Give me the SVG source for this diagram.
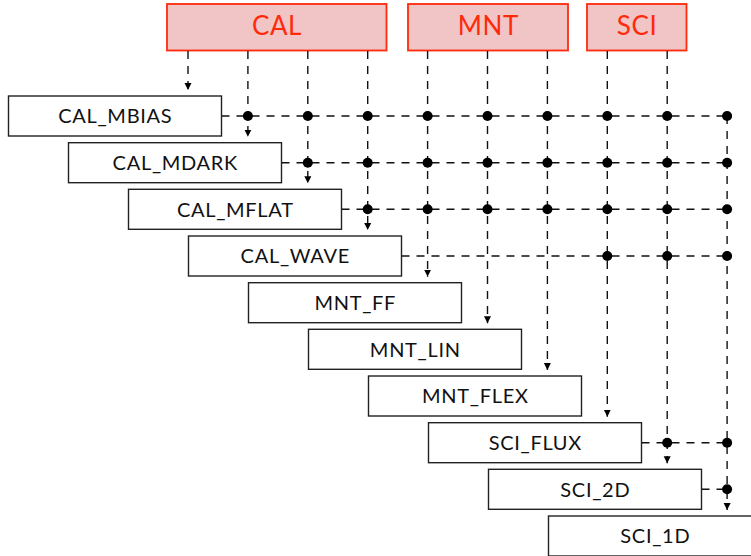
<svg xmlns="http://www.w3.org/2000/svg" width="751" height="556" viewBox="0 0 751 556">
<style>
.hdr rect{fill:#f1c5c5;stroke:#ff2a0a;stroke-width:1.8}
.hdr text{fill:#ff2a0a;font-family:Lato,"Liberation Sans",sans-serif;font-size:26px;letter-spacing:0.6px;text-anchor:middle}
.node rect{fill:#fff;stroke:#222;stroke-width:1.4}
.node text{fill:#111;font-family:Lato,"Liberation Sans",sans-serif;font-size:20px;letter-spacing:0.7px;text-anchor:middle}
.ln{fill:none;stroke:#111;stroke-width:1.4;stroke-dasharray:8,7}
.dot{fill:#000}
</style>
<defs>
<marker id="ah" markerUnits="userSpaceOnUse" markerWidth="8" markerHeight="8" viewBox="0 0 8 8" refX="7" refY="4" orient="auto">
<path d="M0,0.5 L7,4 L0,7.5 Z" fill="#000"/>
</marker>
</defs>
<g id="hdr-CAL" class="hdr"><rect x="167" y="4" width="219.5" height="46.5"/><text x="277" y="35">CAL</text></g>
<g id="hdr-MNT" class="hdr"><rect x="408" y="4" width="160" height="46.5"/><text x="488.3" y="35">MNT</text></g>
<g id="hdr-SCI" class="hdr"><rect x="587" y="4" width="99.5" height="46.5"/><text x="637" y="35">SCI</text></g>

<g id="connectors">
<path class="ln" d="M188,51 V90" marker-end="url(#ah)"/>
<path class="ln" d="M247.9,51 V136.7" marker-end="url(#ah)"/>
<path class="ln" d="M307.8,51 V183.3" marker-end="url(#ah)"/>
<path class="ln" d="M367.7,51 V230" marker-end="url(#ah)"/>
<path class="ln" d="M427.6,51 V276.7" marker-end="url(#ah)"/>
<path class="ln" d="M487.5,51 V323.3" marker-end="url(#ah)"/>
<path class="ln" d="M547.4,51 V370" marker-end="url(#ah)"/>
<path class="ln" d="M607.3,51 V416.7" marker-end="url(#ah)"/>
<path class="ln" d="M667.2,51 V463.3" marker-end="url(#ah)"/>
<path class="ln" d="M727.1,116 V510" marker-end="url(#ah)"/>

<path class="ln" d="M221.5,116 H727.1"/>
<path class="ln" d="M281.5,162.7 H727.1"/>
<path class="ln" d="M341.5,209.3 H727.1"/>
<path class="ln" d="M401.5,256 H727.1"/>
<path class="ln" d="M641.5,442.7 H727.1"/>
<path class="ln" d="M701.5,489.3 H727.1"/>

<g class="dot">
<circle cx="247.9" cy="116" r="5"/><circle cx="307.8" cy="116" r="5"/><circle cx="367.7" cy="116" r="5"/><circle cx="427.6" cy="116" r="5"/><circle cx="487.5" cy="116" r="5"/><circle cx="547.4" cy="116" r="5"/><circle cx="607.3" cy="116" r="5"/><circle cx="667.2" cy="116" r="5"/><circle cx="727.1" cy="116" r="5"/>
<circle cx="307.8" cy="162.7" r="5"/><circle cx="367.7" cy="162.7" r="5"/><circle cx="427.6" cy="162.7" r="5"/><circle cx="487.5" cy="162.7" r="5"/><circle cx="547.4" cy="162.7" r="5"/><circle cx="607.3" cy="162.7" r="5"/><circle cx="667.2" cy="162.7" r="5"/><circle cx="727.1" cy="162.7" r="5"/>
<circle cx="367.7" cy="209.3" r="5"/><circle cx="427.6" cy="209.3" r="5"/><circle cx="487.5" cy="209.3" r="5"/><circle cx="547.4" cy="209.3" r="5"/><circle cx="607.3" cy="209.3" r="5"/><circle cx="667.2" cy="209.3" r="5"/><circle cx="727.1" cy="209.3" r="5"/>
<circle cx="607.3" cy="256" r="5"/><circle cx="667.2" cy="256" r="5"/><circle cx="727.1" cy="256" r="5"/>
<circle cx="667.2" cy="442.7" r="5"/><circle cx="727.1" cy="442.7" r="5"/>
<circle cx="727.1" cy="489.3" r="5"/>
</g>
</g>

<g id="CAL_MBIAS" class="node"><rect x="8.5" y="96" width="213" height="40"/><text x="115.3" y="123.3">CAL_MBIAS</text></g>
<g id="CAL_MDARK" class="node"><rect x="68.5" y="142.7" width="213" height="40"/><text x="175.3" y="170">CAL_MDARK</text></g>
<g id="CAL_MFLAT" class="node"><rect x="128.5" y="189.3" width="213" height="40"/><text x="235.3" y="216.6">CAL_MFLAT</text></g>
<g id="CAL_WAVE" class="node"><rect x="188.5" y="236" width="213" height="40"/><text x="295.3" y="263.3">CAL_WAVE</text></g>
<g id="MNT_FF" class="node"><rect x="248.5" y="282.7" width="213" height="40"/><text x="355.3" y="310">MNT_FF</text></g>
<g id="MNT_LIN" class="node"><rect x="308.5" y="329.3" width="213" height="40"/><text x="415.3" y="356.6">MNT_LIN</text></g>
<g id="MNT_FLEX" class="node"><rect x="368.5" y="376" width="213" height="40"/><text x="475.3" y="403.3">MNT_FLEX</text></g>
<g id="SCI_FLUX" class="node"><rect x="428.5" y="422.7" width="213" height="40"/><text x="535.3" y="450">SCI_FLUX</text></g>
<g id="SCI_2D" class="node"><rect x="488.5" y="469.3" width="213" height="40"/><text x="595.3" y="496.6">SCI_2D</text></g>
<g id="SCI_1D" class="node"><rect x="548.5" y="516" width="213" height="40"/><text x="655.3" y="543.3">SCI_1D</text></g>
</svg>
